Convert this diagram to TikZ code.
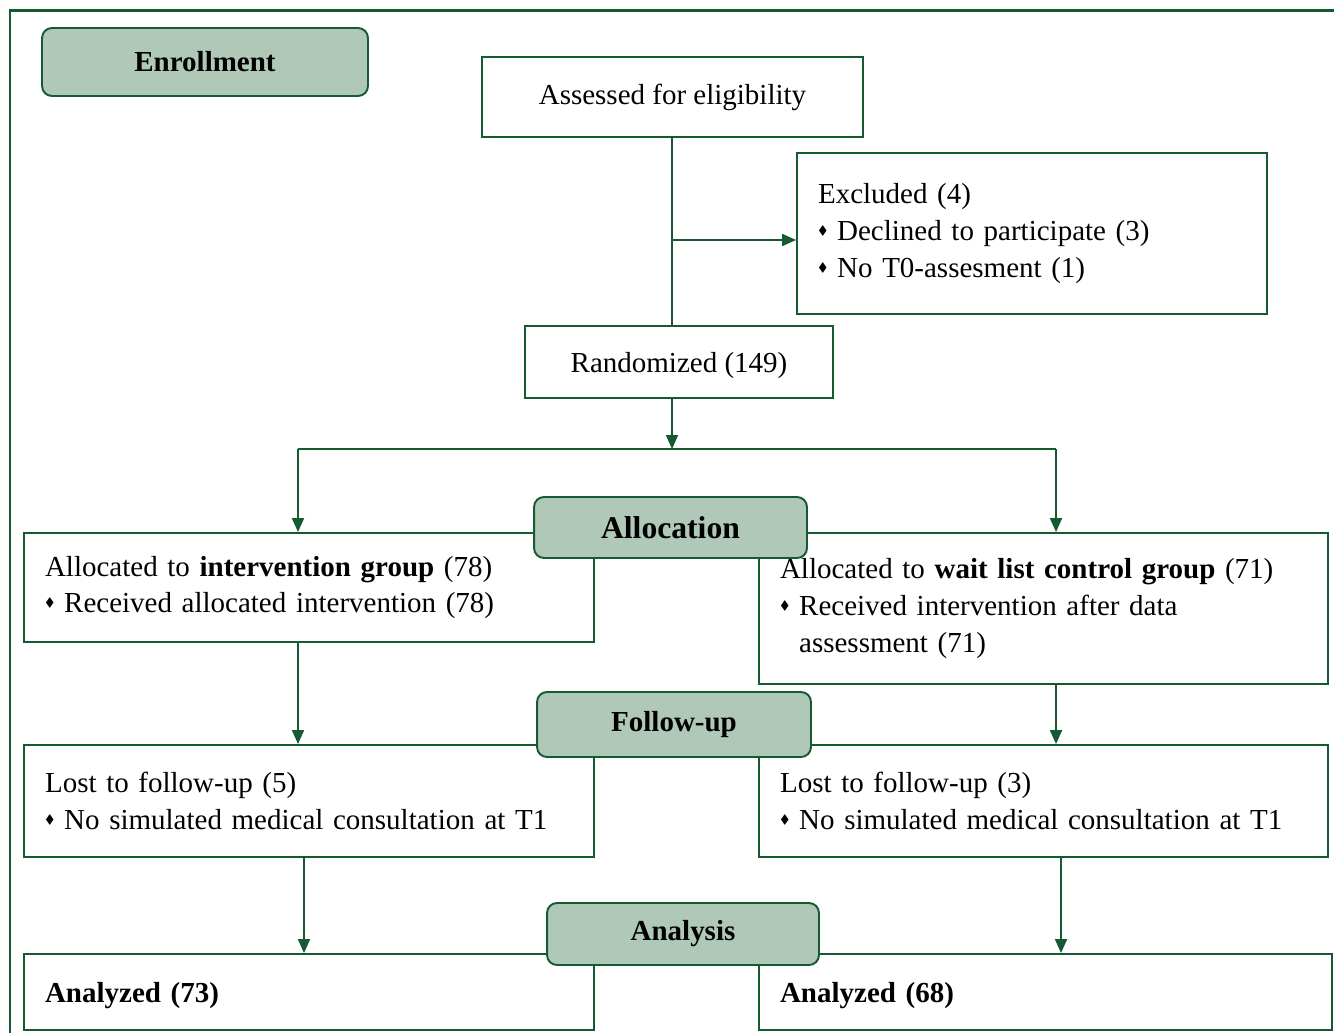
\documentclass[tikz,border=0pt]{standalone}
\usepackage{amssymb}
\usepackage{fontspec}
\setmainfont{Liberation Serif}
\usetikzlibrary{arrows.meta}

\definecolor{flowgreen}{RGB}{22,90,50}
\definecolor{tagfill}{RGB}{176,200,184}
\newcommand{\bul}{\raisebox{0.45ex}{\scriptsize$\blacklozenge$}\ }

\tikzset{
  box/.style={draw=flowgreen, line width=1.1pt, rectangle, fill=white, font=\fontsize{16.5}{21}\selectfont},
  listbox/.style={box, align=left, inner xsep=0.42cm, text width=#1},
  tag/.style={draw=flowgreen, line width=1.1pt, rectangle, rounded corners=0.2cm, fill=tagfill, font=\fontsize{16.5}{21}\selectfont\bfseries},
  flow/.style={draw=flowgreen, line width=1.1pt},
  arr/.style={flow, -{Triangle[length=0.28cm,width=0.24cm]}}
}

\begin{document}
\begin{tikzpicture}[x=0.02cm, y=-0.02cm]
\useasboundingbox (0,0) rectangle (1334,1033);
\clip (0,0) rectangle (1334,1033);
% Frame
\draw[flowgreen, line width=1.7pt] (10,11) rectangle (1350,1050);

% Boxes
\node[box, minimum width=7.62cm, minimum height=1.6cm] (assessed) at (672.5,97) {Assessed for eligibility};
\node[listbox=8.56cm, minimum height=3.22cm] (excluded) at (1032,233.5) {Excluded (4)\\ \bul Declined to participate (3)\\ \bul No T0-assesment (1)};
\node[box, minimum width=6.16cm, minimum height=1.44cm, text depth=0pt] (randomized) at (679,362) {Randomized (149)};
\node[listbox=10.56cm, minimum height=2.18cm] (allocleft) at (309,587.5) {Allocated to \textbf{intervention group} (78)\\ \bul Received allocated intervention (78)};
\node[listbox=10.54cm, minimum height=3.02cm] (allocright) at (1043.5,608.5) {Allocated to \textbf{wait list control group} (71)\\ \bul Received intervention after data\\ \phantom{\bul}assessment (71)};
\node[listbox=10.56cm, minimum height=2.24cm] (lostleft) at (309,801) {Lost to follow-up (5)\\ \bul No simulated medical consultation at T1};
\node[listbox=10.54cm, minimum height=2.24cm] (lostright) at (1043.5,801) {Lost to follow-up (3)\\ \bul No simulated medical consultation at T1};
\node[listbox=10.56cm, minimum height=1.52cm, text depth=0pt] (analyzedleft) at (309,992) {\textbf{Analyzed (73)}};
\node[listbox=10.62cm, minimum height=1.52cm, text depth=0pt] (analyzedright) at (1045.5,992) {\textbf{Analyzed (68)}};

% Stage tags
\node[tag, minimum width=6.52cm, minimum height=1.36cm] (enrollment) at (205,62) {Enrollment};
\node[tag, minimum width=5.46cm, minimum height=1.22cm, text depth=0pt, font=\fontsize{18}{22}\selectfont\bfseries] (allocation) at (670.5,527.5) {Allocation};
\node[tag, minimum width=5.48cm, minimum height=1.3cm] (followup) at (674,724.5) {Follow-up};
\node[tag, minimum width=5.44cm, minimum height=1.24cm] (analysis) at (683,934) {Analysis};

% Junctions
\coordinate (split) at (672,240);
\coordinate (fork) at (672,449);
\coordinate (lbranch) at (298,449);
\coordinate (rbranch) at (1056,449);
\coordinate (lcol) at (304,900);
\coordinate (rcol) at (1061,900);

% Arrows
\draw[flow] (assessed.south -| split) -- (randomized.north -| split);
\draw[arr] (split) -- (split -| excluded.west);
\draw[arr] (randomized.south -| fork) -- (fork);
\draw[flow] (lbranch) -- (rbranch);
\draw[arr] (lbranch) -- (lbranch |- allocleft.north);
\draw[arr] (rbranch) -- (rbranch |- allocright.north);
\draw[arr] (allocleft.south -| lbranch) -- (lostleft.north -| lbranch);
\draw[arr] (allocright.south -| rbranch) -- (lostright.north -| rbranch);
\draw[arr] (lostleft.south -| lcol) -- (analyzedleft.north -| lcol);
\draw[arr] (lostright.south -| rcol) -- (analyzedright.north -| rcol);

\end{tikzpicture}
\end{document}
